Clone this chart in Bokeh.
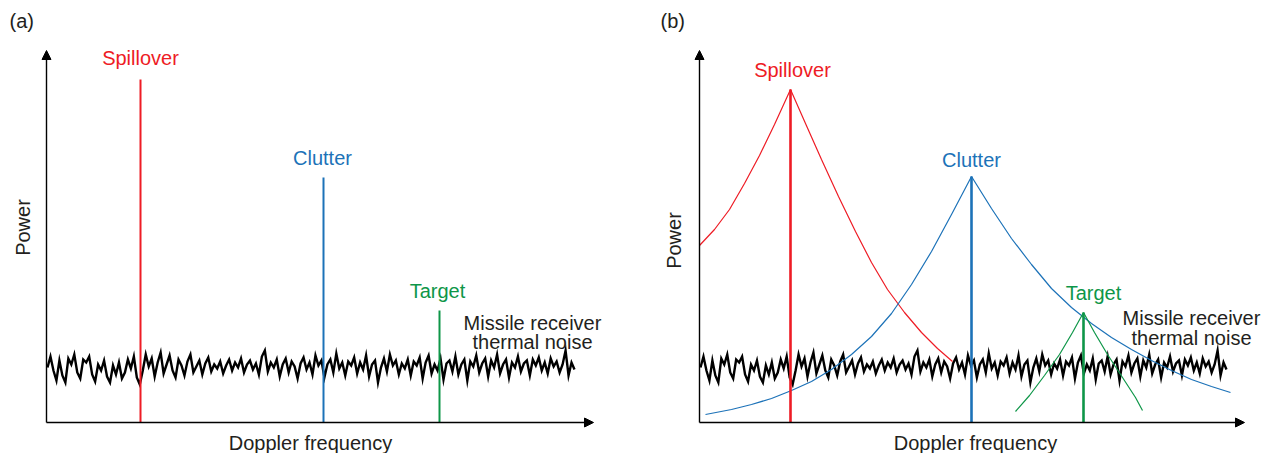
from bokeh.plotting import figure
from bokeh.models import Range1d, Label, Arrow, NormalHead
from bokeh.layouts import row
from bokeh.embed import file_html
from bokeh.resources import INLINE
import numpy as np

# ---------------- data (arbitrary units: frequency →, power ↑) ----------------
peak_names = ["Spillover", "Clutter", "Target"]

# panel (a): pure lines
a_freq = [94, 277, 393]
a_power = [343, 245, 112]

# panel (b): spread spectra
b_freq = [91, 272, 384]
b_power = [333, 246, 110]

b_spill_x = [0, 15, 30, 45, 60, 75, 91, 106, 122, 139, 156, 172, 188, 205, 222, 238, 253]
b_spill_y = [177, 193, 213, 239, 267, 298, 333, 299, 263, 226, 191, 160, 133, 110, 90, 74, 61]

b_clut_x = [6, 32, 52, 72, 92, 112, 132, 152, 172, 192, 212, 232, 252, 272,
            292, 312, 332, 352, 372, 392, 412, 432, 452, 472, 492, 512, 531]
b_clut_y = [8, 13, 18, 24, 32, 41, 53, 68, 86, 109, 138, 171, 208, 246,
            214, 184, 158, 134, 115, 99, 85, 73, 62, 52, 43, 36, 30]

b_targ_x = [316, 330, 345, 360, 373, 384, 395, 408, 423, 436, 443]
b_targ_y = [11, 27, 47, 68, 90, 110, 90, 68, 45, 25, 12]

# missile receiver thermal noise
noise = [55, 66, 52, 42, 62, 47, 40, 64, 58, 68, 50, 44, 63, 60, 66, 48, 41, 58, 52, 62, 46, 40, 57, 48, 60, 44, 50, 63, 54, 66, 45, 38, 52, 68,
         56, 64, 46, 60, 70, 49, 58, 67, 52, 45, 63, 57, 47, 61, 68, 50, 56, 62, 48, 59, 65, 51, 58, 54, 61, 49, 57, 63, 52, 60, 55, 64, 50, 58,
         62, 53, 59, 48, 66, 72, 51, 60, 55, 63, 46, 58, 64, 50, 61, 56, 44, 59, 65, 53, 60, 48, 67, 57, 62, 45, 58, 63, 50, 69, 54, 60, 47, 61,
         57, 65, 49, 60, 53, 67, 46, 58, 62, 40, 55, 64, 51, 68, 57, 62, 48, 59, 54, 63, 47, 61, 57, 65, 44, 60, 67, 49, 58, 52, 64, 43, 59, 62,
         51, 66, 48, 58, 63, 42, 61, 56, 67, 50, 59, 64, 46, 62, 55, 68, 49, 58, 63, 45, 60, 55, 66, 51, 59, 62, 47, 63, 57, 65, 52, 60, 49, 64,
         56, 61, 50, 58, 72, 47, 60, 53]
noise_start = 1
noise_end_a = 528
noise_end_b = 527

# axis extents (arrow tips)
a_xmax, b_xmax, ymax = 547, 545, 372

# ---------------- styling ----------------
FONT = "Liberation Sans"
FS = "20px"
TXT = "#231F20"
RED = "#EE1C25"
BLUE = "#1C72B8"
GREEN = "#0E9648"
colors = [RED, BLUE, GREEN]
H = 453


def make_fig(width, x0, x1):
    p = figure(width=width, height=H,
               x_range=Range1d(x0, x1), y_range=Range1d(-31, 422),
               min_border=0, min_border_left=0, min_border_right=0,
               min_border_top=0, min_border_bottom=0,
               output_backend="svg", toolbar_location=None,
               outline_line_color=None, background_fill_color="white",
               border_fill_color="white")
    p.grid.visible = False
    p.axis.visible = False
    return p


def axes(p, xmax):
    p.add_layout(Arrow(end=NormalHead(size=9, fill_color="black", line_color="black", line_width=1),
                       x_start=0, y_start=0, x_end=xmax, y_end=0,
                       line_color="black", line_width=1.4))
    p.add_layout(Arrow(end=NormalHead(size=9, fill_color="black", line_color="black", line_width=1),
                       x_start=0, y_start=0, x_end=0, y_end=ymax,
                       line_color="black", line_width=1.4))


def add_label(p, text, x, y, color=TXT, align="center", angle=0.0):
    p.add_layout(Label(x=x, y=y, text=text, text_font=FONT, text_font_size=FS,
                       text_color=color, text_align=align, text_baseline="middle",
                       angle=angle))


# ---------------- panel (a) ----------------
pa = make_fig(648, -46, 602)
xa = np.linspace(noise_start, noise_end_a, len(noise))
pa.line(xa, noise, line_color="black", line_width=2.4, line_join="miter")
pa.segment(x0=a_freq, y0=[0] * 3, x1=a_freq, y1=a_power, line_color=colors, line_width=2)
axes(pa, a_xmax)
add_label(pa, "(a)", -37, 402, align="left")
add_label(pa, "Power", -24, 195, angle=np.pi / 2)
add_label(pa, "Doppler frequency", 264, -20)
for name, f, pw, c, dx, dy in zip(peak_names, a_freq, a_power, colors, [0, -1, -2], [22, 20, 20]):
    add_label(pa, name, f + dx, pw + dy, color=c)
add_label(pa, "Missile receiver", 486, 100)
add_label(pa, "thermal noise", 486, 81)

# ---------------- panel (b) ----------------
pb = make_fig(618, -51, 567)
xb = np.linspace(noise_start, noise_end_b, len(noise))
pb.line(xb, noise, line_color="black", line_width=2.4, line_join="miter")
pb.line(b_spill_x, b_spill_y, line_color=RED, line_width=1.2)
pb.line(b_clut_x, b_clut_y, line_color=BLUE, line_width=1.2)
pb.line(b_targ_x, b_targ_y, line_color=GREEN, line_width=1.2)
pb.segment(x0=b_freq, y0=[0] * 3, x1=b_freq, y1=b_power, line_color=colors, line_width=2.6)
axes(pb, b_xmax)
add_label(pb, "(b)", -39, 402, align="left")
add_label(pb, "Power", -26, 182, angle=np.pi / 2)
add_label(pb, "Doppler frequency", 276, -20)
for name, f, pw, c, dx, dy in zip(peak_names, b_freq, b_power, colors, [2, 0, 10], [20, 17, 20]):
    add_label(pb, name, f + dx, pw + dy, color=c)
add_label(pb, "Missile receiver", 492, 105)
add_label(pb, "thermal noise", 492, 85)

layout = row(pa, pb)
open("out.html", "w").write(file_html(layout, INLINE))
